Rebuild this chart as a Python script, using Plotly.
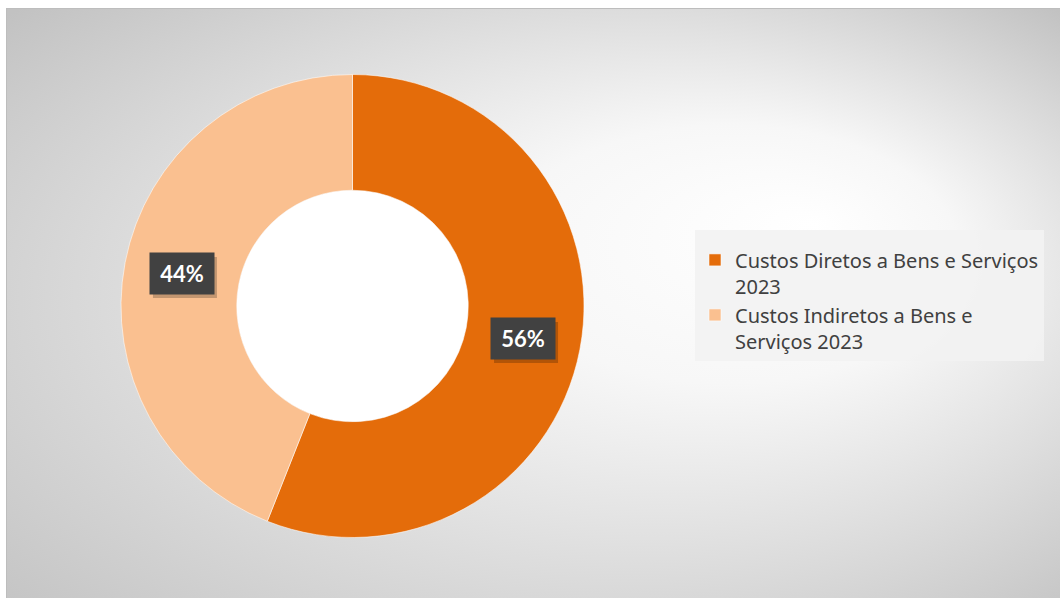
import base64
import math
import textwrap

import plotly.graph_objects as go

# Data
categories = [
    "Custos Diretos a Bens e Serviços 2023",
    "Custos Indiretos a Bens e Serviços 2023",
]
values = [56, 44]
colors = ["#E46C0A", "#FAC090"]

W, H = 1060, 598
HOLE = 0.5
# Donut placement in pixels (centre and outer radius)
CX, CY, R = 352.5, 306.0, 231.5
# Size of the percentage label boxes, pixels
BOX_W, BOX_H = 64, 41

legend_labels = ["<br>".join(textwrap.wrap(c, width=32)) for c in categories]

# Background: white page with a framed, radially shaded chart area
svg = f"""<svg xmlns="http://www.w3.org/2000/svg" width="{W}" height="{H}" viewBox="0 0 {W} {H}">
<defs>
<radialGradient id="g" cx="0.5" cy="0.53" r="0.72" fx="0.76" fy="0.36">
<stop offset="0" stop-color="#FFFFFF"/>
<stop offset="0.3" stop-color="#F7F7F7"/>
<stop offset="1" stop-color="#C2C2C2"/>
</radialGradient>
</defs>
<rect width="{W}" height="{H}" fill="#FFFFFF"/>
<rect x="6.5" y="8.5" width="{W}" height="{H}" fill="url(#g)" stroke="#BDBDBD" stroke-width="1"/>
</svg>"""
bg_src = "data:image/svg+xml;base64," + base64.b64encode(svg.encode("utf-8")).decode("ascii")

fig = go.Figure()
fig.add_trace(
    go.Pie(
        labels=legend_labels,
        values=values,
        hole=HOLE,
        sort=False,
        direction="clockwise",
        rotation=0,
        marker=dict(colors=colors, line=dict(color="rgba(255,255,255,0.55)", width=1)),
        textinfo="none",
        hoverinfo="label+percent",
        domain=dict(
            x=[(CX - R) / W, (CX + R) / W],
            y=[(H - CY - R) / H, (H - CY + R) / H],
        ),
    )
)

# White fill inside the donut hole
r_in = R * HOLE
shapes = [dict(
    type="circle", xref="paper", yref="paper", layer="below",
    x0=(CX - r_in) / W, x1=(CX + r_in) / W,
    y0=1 - (CY + r_in) / H, y1=1 - (CY - r_in) / H,
    fillcolor="#FFFFFF", line=dict(width=0),
)]

# Percentage labels in dark boxes at the middle of each ring segment
total = sum(values)
r_mid = R * (1 + HOLE) / 2
annotations = []
cum = 0
for v in values:
    theta = 2 * math.pi * (cum + v / 2) / total
    cum += v
    px = CX + r_mid * math.sin(theta)
    py = CY - r_mid * math.cos(theta)
    # soft drop shadow behind the label box
    sx, sy = px + 3, py + 4
    shapes.append(dict(
        type="rect", xref="paper", yref="paper", layer="above",
        x0=(sx - BOX_W / 2) / W, x1=(sx + BOX_W / 2) / W,
        y0=1 - (sy + BOX_H / 2) / H, y1=1 - (sy - BOX_H / 2) / H,
        fillcolor="rgba(0,0,0,0.22)", line=dict(width=0),
    ))
    annotations.append(dict(
        x=px / W, y=1 - py / H, xref="paper", yref="paper",
        xanchor="center", yanchor="middle",
        width=BOX_W - 4, height=BOX_H - 4, borderpad=2,
        showarrow=False, text=f"<b>{round(v / total * 100)}%</b>",
        bgcolor="#414141",
        font=dict(family="Lato", size=22, color="#FFFFFF"),
    ))

fig.update_layout(
    width=W,
    height=H,
    margin=dict(l=0, r=0, t=0, b=0),
    paper_bgcolor="#FFFFFF",
    plot_bgcolor="rgba(0,0,0,0)",
    images=[dict(source=bg_src, xref="paper", yref="paper", x=0, y=1,
                 sizex=1, sizey=1, xanchor="left", yanchor="top",
                 sizing="stretch", layer="below")],
    shapes=shapes,
    annotations=annotations,
    showlegend=True,
    legend=dict(
        x=695 / W, y=1 - 230 / H, xanchor="left", yanchor="top",
        bgcolor="rgba(242,242,242,0.92)",
        font=dict(family="Noto Sans", size=20, color="#404040"),
        title=dict(text=" ", font=dict(size=8)),
        valign="top",
        traceorder="normal",
    ),
)

fig.write_html("out.html", config={"displayModeBar": False})
